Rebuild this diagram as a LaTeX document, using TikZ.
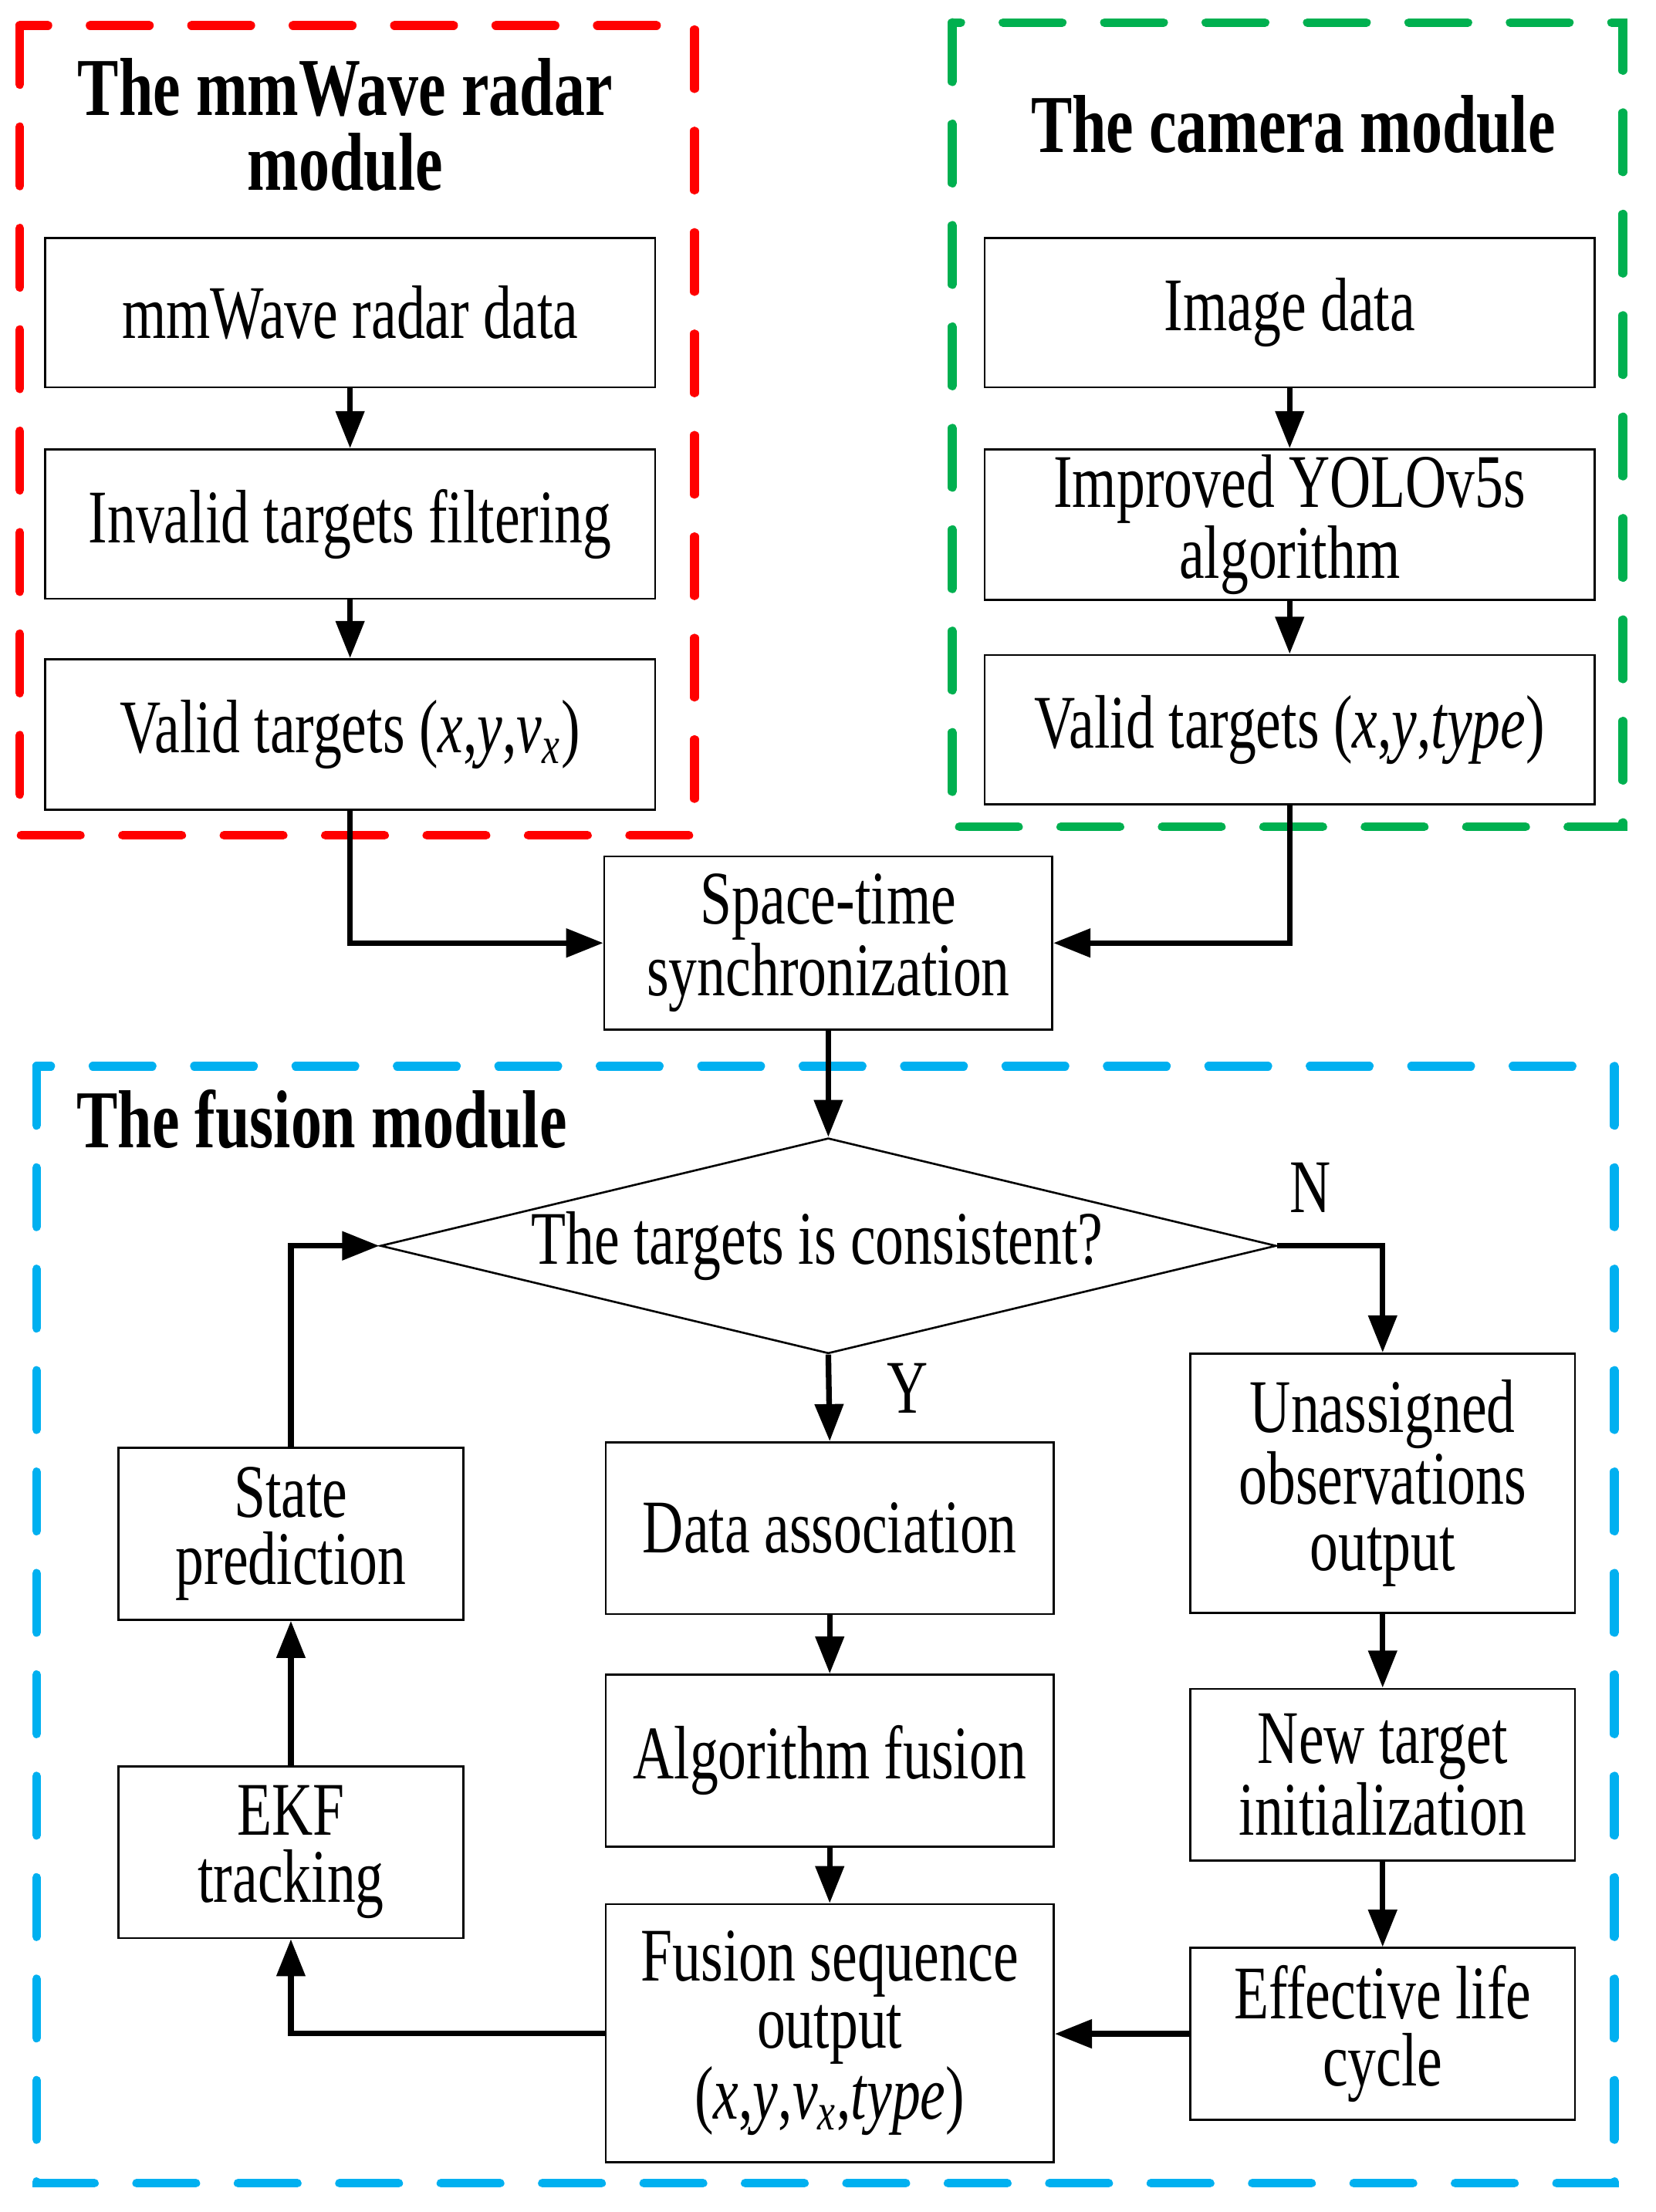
\documentclass[tikz,border=0pt]{standalone}
\usepackage{fontspec}
\setmainfont{Liberation Serif}[FakeStretch=0.75]
\usetikzlibrary{arrows.meta,shapes.geometric}
\definecolor{rd}{RGB}{255,0,0}
\definecolor{gn}{RGB}{0,176,80}
\definecolor{bl}{RGB}{0,176,240}
\begin{document}
\begin{tikzpicture}[x=0.5pt,y=-0.5pt,
  box/.style={draw, line width=0.72pt, inner sep=0pt, align=center, font=\fontsize{26.9}{23.75}\selectfont},
  lbl/.style={inner sep=0pt, font=\fontsize{26.9}{23.75}\selectfont},
  ttl/.style={inner sep=0pt, font=\fontsize{29.2}{26}\selectfont\bfseries},
  arr/.style={line width=2pt, -{Triangle[length=13.2pt,width=9.9pt]}},
  grp/.style={line width=3.1pt, line cap=round, dash pattern=on 21pt off 15pt}]
\useasboundingbox (0,0) rectangle (1175,1570.5);
% group frames
\draw[grp, rd] (14,18) rectangle (493,593);
\draw[grp, gn] (676,16) rectangle (1152,587);
\draw[grp, bl] (26,757) rectangle (1146,1550);
% titles
\node[ttl, anchor=base] (t1a) at (245,82) {The mmWave radar};
\node[ttl, anchor=base] (t1b) at (245,135) {module};
\node[ttl, anchor=base] (t2) at (918,108) {The camera module};
\node[ttl, anchor=base west] (t3) at (54,815) {The fusion module};
% radar column
\node[box, minimum width=216.5pt, minimum height=53pt] (L1) at (248.5,222) {mmWave radar data};
\node[box, minimum width=216.5pt, minimum height=53pt] (L2) at (248.5,372) {Invalid targets filtering};
\node[box, minimum width=216.5pt, minimum height=53.5pt] (L3) at (248.5,521.5) {Valid targets (\textit{x},\textit{y},\textit{v}\textsubscript{\textit{x}})};
% camera column
\node[box, minimum width=216.5pt, minimum height=53pt] (R1) at (915.5,222) {Image data};
\node[box, minimum width=216.5pt, minimum height=53.5pt] (R2) at (915.5,372.5) {Improved YOLOv5s\\algorithm};
\node[box, minimum width=216.5pt, minimum height=53pt] (R3) at (915.5,518) {Valid targets (\textit{x},\textit{y},\textit{type})};
% sync
\node[box, minimum width=159pt, minimum height=61.5pt] (S) at (588,669.5) {Space-time\\synchronization};
% decision
\node[draw, line width=0.72pt, shape=diamond, aspect=4.16, inner sep=0pt, minimum width=318pt, minimum height=76.5pt, font=\fontsize{26.9}{23.75}\selectfont] (D) at (588,884.5) {The targets is consistent?\hspace*{8pt}};
% fusion
\node[box, minimum width=122.5pt, minimum height=61pt] (SP) at (206.5,1089) {State\\prediction};
\node[box, minimum width=122.5pt, minimum height=61pt] (EKF) at (206.5,1315) {EKF\\tracking};
\node[box, minimum width=159pt, minimum height=61pt] (DA) at (589,1085) {Data association};
\node[box, minimum width=159pt, minimum height=61pt] (AF) at (589,1250) {Algorithm fusion};
\node[box, minimum width=159pt, minimum height=91.5pt] (FS) at (589,1443.5) {Fusion sequence\\output\\(\textit{x},\textit{y},\textit{v}\textsubscript{\textit{x}},\textit{type})};
\node[box, minimum width=136.5pt, minimum height=92pt] (UO) at (981.5,1053) {Unassigned\\observations\\output};
\node[box, minimum width=136.5pt, minimum height=61pt] (NT) at (981.5,1260) {New target\\initialization};
\node[box, minimum width=136.5pt, minimum height=61pt] (EL) at (981.5,1444) {Effective life\\cycle};
\node[lbl, anchor=base] (N) at (930,861) {N};
\node[lbl, anchor=base] (Y) at (644,1003) {Y};
% connectors
\draw[arr] (L1) -- (L2);
\draw[arr] (L2) -- (L3);
\draw[arr] (R1) -- (R2);
\draw[arr] (R2) -- (R3);
\draw[arr] (L3.south) |- (S.west);
\draw[arr] (R3.south) |- (S.east);
\draw[arr] (S) -- (D);
\draw[arr] (D.east) -| (UO.north);
\draw[arr] (D.south) -- (DA.north);
\draw[arr] (DA) -- (AF);
\draw[arr] (AF) -- (FS);
\draw[arr] (UO) -- (NT);
\draw[arr] (NT) -- (EL);
\draw[arr] (EL.west) -- (EL.west -| FS.east);
\draw[arr] (FS.west) -| (EKF.south);
\draw[arr] (EKF) -- (SP);
\draw[arr] (SP.north) |- (D.west);
\end{tikzpicture}
\end{document}
